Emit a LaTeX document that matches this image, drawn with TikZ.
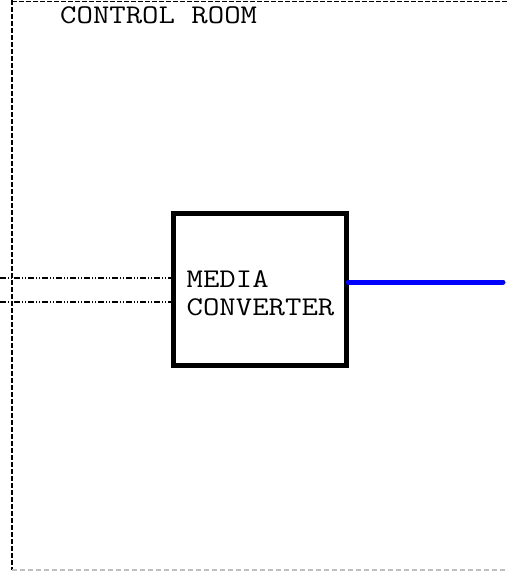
\documentclass[tikz,border=0pt]{standalone}
\usepackage{fontspec}
\newfontfamily\roomfont[FakeStretch=1.18]{Latin Modern Mono}
\usepackage{tikz}
\usetikzlibrary{calc}
\tikzset{>=latex}
\tikzset{
    roomedge/.style={line width=1.5pt, dash pattern=on 5pt off 2pt},
    convbox/.style={draw, line width=5pt, minimum width=173pt, minimum height=152pt},
    convtext/.style={align=left, inner sep=0pt, font=\roomfont\fontsize{27}{28}\selectfont},
    copperline/.style={line width=1.2pt, dash pattern=on 6pt off 2pt on 1pt off 2pt on 1pt off 2pt},
    fiberline/.style={blue, line width=5pt, line cap=round}
}

\begin{document}
\begin{tikzpicture}[x=1pt, y=-1pt]
    \useasboundingbox (0,0) rectangle (507,571);

    % Room outline (only part of it in view)
    \draw[roomedge] (12,0) -- (12,570);
    \draw[roomedge] (12,1.5) -- (507,1.5);
    \draw[gray!50, line width=1.5pt, dash pattern=on 5pt off 3pt] (12,570) -- (507,570);
    \node[anchor=base west, inner sep=0pt, font=\roomfont\fontsize{27}{28}\selectfont]
        (room) at (60,23) {CONTROL ROOM};

    % Media converter
    \node[convbox] (conv) at (259.5,289) {};
    \node[convtext] (convlabel) at ($(conv.center)+(1,4)$) {MEDIA\\CONVERTER};

    % Incoming copper pairs
    \coordinate (inA) at (0,278);
    \coordinate (inB) at (0,302);
    \draw[copperline] (inA) -- (inA -| conv.west);
    \draw[copperline] (inB) -- (inB -| conv.west);

    % Outgoing fibre
    \coordinate (fiber) at (503,282);
    \draw[fiberline] (fiber -| conv.east) -- (fiber);
\end{tikzpicture}
\end{document}
